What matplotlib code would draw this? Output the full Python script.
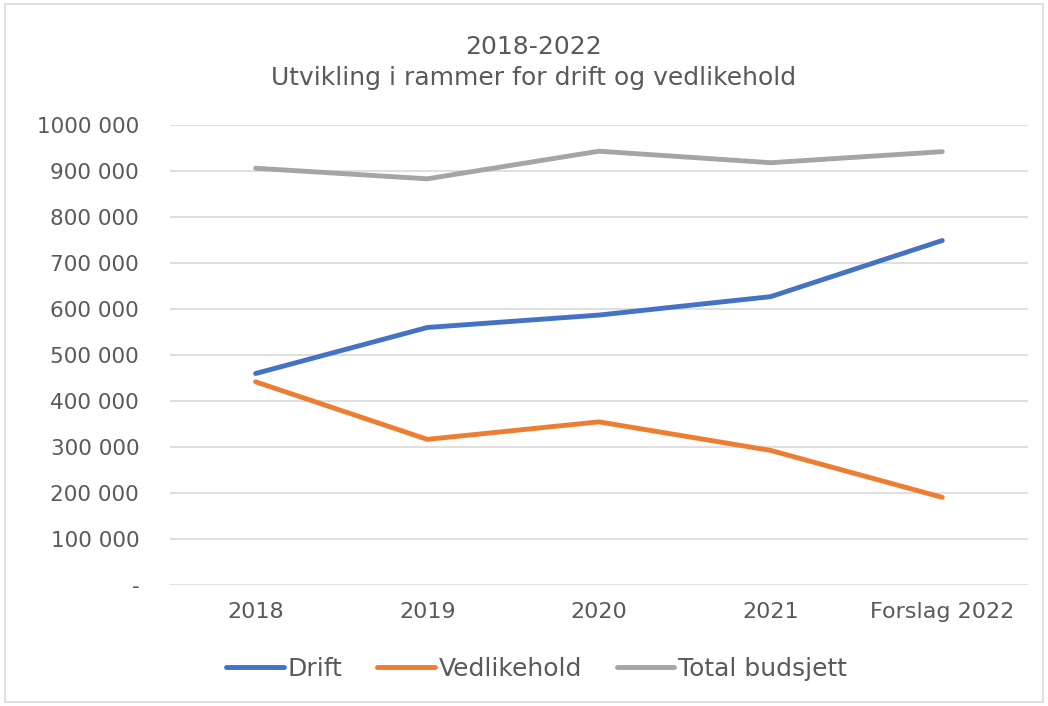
import matplotlib
matplotlib.use("Agg")
import matplotlib.pyplot as plt
from matplotlib.patches import Rectangle

# data
kategorier = ['2018', '2019', '2020', '2021', 'Forslag 2022']
drift = [460000, 560000, 587000, 627000, 749000]
vedlikehold = [442000, 317000, 355000, 293000, 191000]
total = [906000, 883000, 943000, 918000, 942000]

y_ticks = [0, 100000, 200000, 300000, 400000, 500000, 600000, 700000, 800000, 900000, 1000000]
y_labels = ['-', '100 000', '200 000', '300 000', '400 000', '500 000',
            '600 000', '700 000', '800 000', '900 000', '1000 000']

plt.rcParams['font.family'] = ['DejaVu Sans']
tekst = '#595959'

fig = plt.figure(figsize=(10.48, 7.06), dpi=100)
ax = fig.add_axes([0.162, 0.171, 0.819, 0.652])

x = range(len(kategorier))
ax.plot(x, drift, color='#4472C4', lw=3.5, label='Drift', solid_capstyle='round')
ax.plot(x, vedlikehold, color='#ED7D31', lw=3.5, label='Vedlikehold', solid_capstyle='round')
ax.plot(x, total, color='#A5A5A5', lw=3.5, label='Total budsjett', solid_capstyle='round')

ax.set_xlim(-0.5, len(kategorier) - 0.5)
ax.set_ylim(0, 1000000)
ax.set_xticks(list(x))
ax.set_xticklabels(kategorier)
ax.set_yticks(y_ticks)
ax.set_yticklabels(y_labels)
ax.tick_params(axis='y', length=0, labelsize=15.5, colors=tekst, pad=22)
ax.tick_params(axis='x', length=0, labelsize=16, colors=tekst, pad=12)
ax.grid(axis='y', color='#d9d9d9', lw=1.2)
ax.set_axisbelow(True)
for s in ax.spines.values():
    s.set_visible(False)

fig.text(0.509, 0.933, '2018-2022', ha='center', va='center', fontsize=18, color=tekst)
fig.text(0.509, 0.889, 'Utvikling i rammer for drift og vedlikehold', ha='center', va='center',
         fontsize=18, color=tekst)

fig.legend(loc='center', bbox_to_anchor=(0.512, 0.053), ncol=3, frameon=False, fontsize=18,
           handlelength=2.3, handletextpad=0.15, columnspacing=1.4, labelcolor=tekst)

# ytre ramme rundt diagrammet
fig.patches.append(Rectangle((0.005, 0.005), 0.99, 0.99, transform=fig.transFigure,
                             fill=False, edgecolor='#d9d9d9', lw=1.2))

fig.savefig('out.png', dpi=100)
